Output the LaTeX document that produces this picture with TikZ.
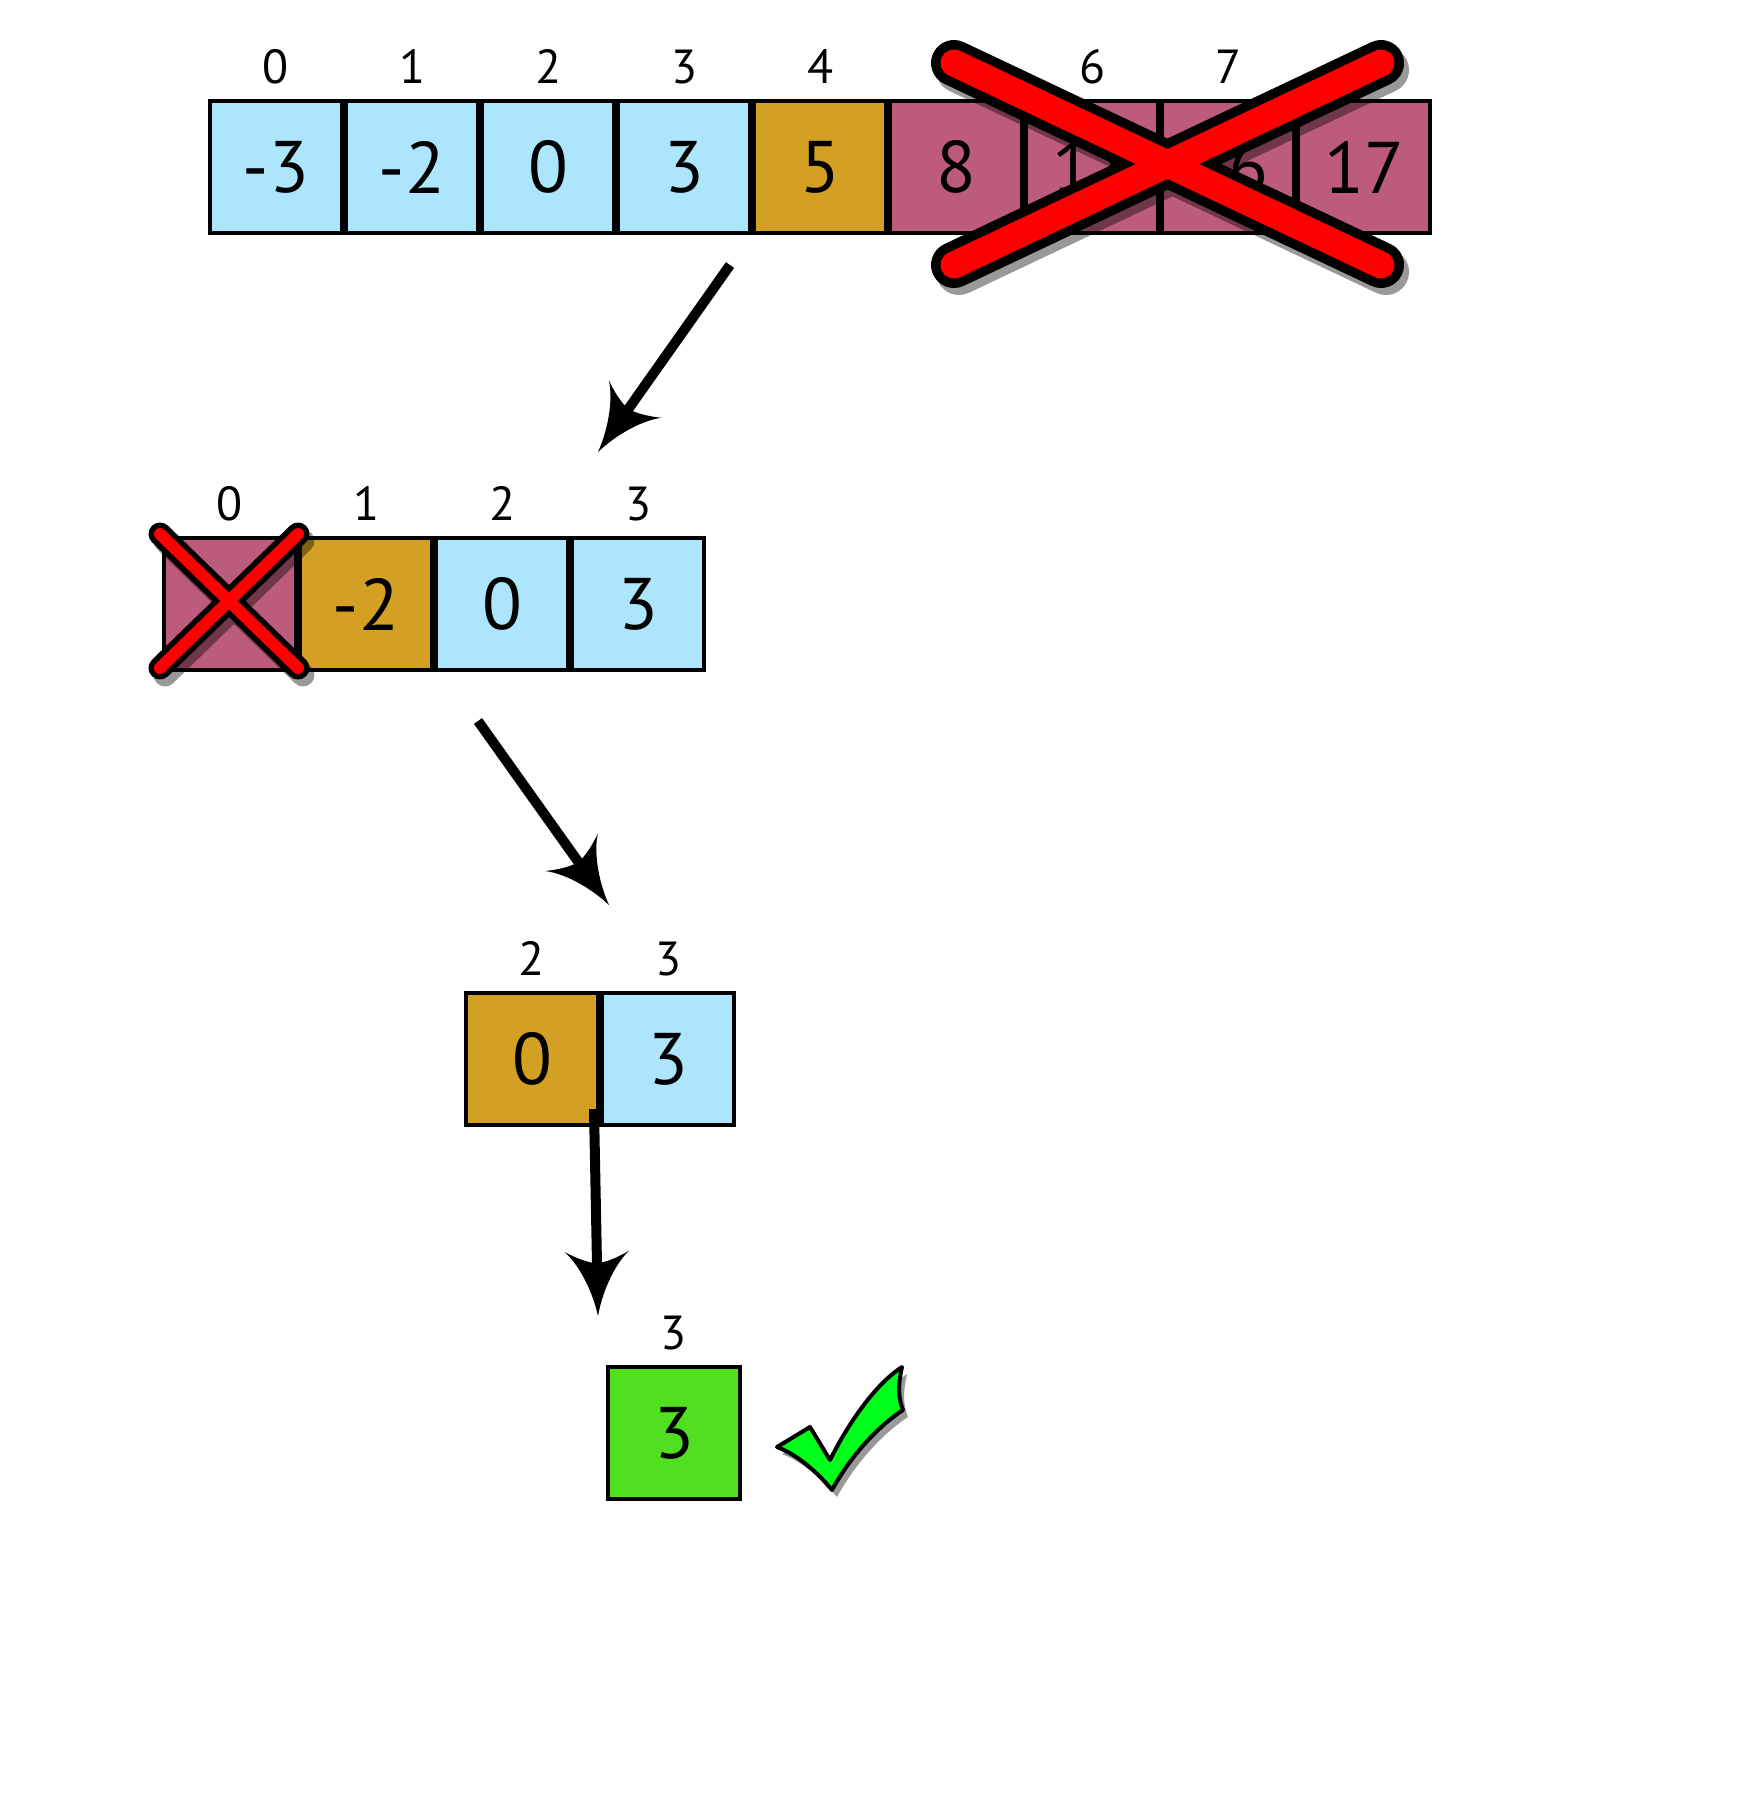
\documentclass[tikz,border=0pt]{standalone}
\usepackage{fontspec}
\setmainfont{PT Sans}
\definecolor{skyblue}{HTML}{ADE6FC}
\definecolor{gold}{HTML}{D4A024}
\definecolor{mauve}{HTML}{BC5B7B}
\definecolor{leaf}{HTML}{50E020}
\definecolor{tick}{HTML}{00FF1A}
\definecolor{xred}{HTML}{FF0000}
\pgfdeclarearrow{
    name = Swept,
    setup code = {
        \pgfarrowssettipend{0pt}
        \pgfarrowssetlineend{-36pt}
        \pgfarrowssetbackend{-46pt}
        \pgfarrowssetvisualbackend{-37pt}
        \pgfarrowshullpoint{0pt}{0pt}
        \pgfarrowsupperhullpoint{-46pt}{23pt}
    },
    drawing code = {
        \pgfpathmoveto{\pgfpointorigin}
        \pgfpathcurveto{\pgfpoint{-20pt}{4pt}}{\pgfpoint{-38pt}{14pt}}{\pgfpoint{-46pt}{23pt}}
        \pgfpathcurveto{\pgfpoint{-41pt}{14pt}}{\pgfpoint{-38pt}{6pt}}{\pgfpoint{-37.5pt}{0pt}}
        \pgfpathcurveto{\pgfpoint{-38pt}{-6pt}}{\pgfpoint{-41pt}{-14pt}}{\pgfpoint{-46pt}{-23pt}}
        \pgfpathcurveto{\pgfpoint{-38pt}{-14pt}}{\pgfpoint{-20pt}{-4pt}}{\pgfpointorigin}
        \pgfpathclose
        \pgfusepathqfill
    },
}
\tikzset{
    >=Swept,
    cell/.style={draw, line width=0.1cm, minimum size=3.3cm, inner sep=0pt,
        outer sep=0.05cm, anchor=center, font=\fontsize{52}{60}\selectfont},
    low/.style={cell, fill=skyblue},
    pivot/.style={cell, fill=gold},
    high/.style={cell, fill=mauve},
    found/.style={cell, fill=leaf},
    idx/.style={inner sep=0pt, outer sep=0pt, anchor=base,
        font=\fontsize{34}{40}\selectfont},
    row/.style={anchor=south west, column sep=0pt, row sep=0.38cm,
        inner sep=0pt, outer sep=0pt},
    flow/.style={->, line width=0.25cm},
    shade/.style={line cap=round, black, opacity=.4,
        transform canvas={shift={(5,7)}}},
    rim/.style={line cap=round, black},
    core/.style={line cap=round, xred},
}

\begin{document}
\begin{tikzpicture}[x=0.025cm, y=-0.025cm]
            \useasboundingbox (0,0) rectangle (1744,1820);
            % whole array
            \matrix[row] at (208,235) {
                \node[idx] (i0) {0} ; & \node[idx] (i1) {1} ; & \node[idx] (i2) {2} ; &
                \node[idx] (i3) {3} ; & \node[idx] (i4) {4} ; & \node[idx] (i5) {5} ; &
                \node[idx] (i6) {6} ; & \node[idx] (i7) {7} ; & \node[idx] (i8) {8} ; \\
                \node[low] (t0) {-3} ; & \node[low] (t1) {-2} ; & \node[low] (t2) {0} ; &
                \node[low] (t3) {3} ; & \node[pivot] (t4) {5} ; & \node[high] (t5) {8} ; &
                \node[high] (t6) {11} ; & \node[high] (t7) {16} ; & \node[high] (t8) {17} ; \\
            } ;
            % left half
            \matrix[row] at (162,672) {
                \node[idx] (j0) {0} ; & \node[idx] (j1) {1} ; &
                \node[idx] (j2) {2} ; & \node[idx] (j3) {3} ; \\
                \node[high] (m0) {} ; & \node[pivot] (m1) {-2} ; &
                \node[low] (m2) {0} ; & \node[low] (m3) {3} ; \\
            } ;
            % two left
            \matrix[row] at (464,1127) {
                \node[idx] (k2) {2} ; & \node[idx] (k3) {3} ; \\
                \node[pivot] (n2) {0} ; & \node[low] (n3) {3} ; \\
            } ;
            % result
            \matrix[row] at (606,1501) {
                \node[idx] (l3) {3} ; \\
                \node[found] (r3) {3} ; \\
            } ;
            % big cross
            \coordinate (bx1) at (954,63) ;
            \coordinate (bx2) at (1381,265) ;
            \coordinate (bx3) at (1381,63) ;
            \coordinate (bx4) at (954,265) ;
            \draw[shade, line width=1.15cm] (bx1) -- (bx2) (bx3) -- (bx4) ;
            \draw[rim, line width=1.15cm] (bx1) -- (bx2) (bx3) -- (bx4) ;
            \draw[core, line width=0.675cm] (bx1) -- (bx2) (bx3) -- (bx4) ;
            % small cross
            \coordinate (sx1) at (160,534) ;
            \coordinate (sx2) at (298,668) ;
            \coordinate (sx3) at (298,534) ;
            \coordinate (sx4) at (160,668) ;
            \draw[shade, line width=0.575cm] (sx1) -- (sx2) (sx3) -- (sx4) ;
            \draw[rim, line width=0.575cm] (sx1) -- (sx2) (sx3) -- (sx4) ;
            \draw[core, line width=0.3cm] (sx1) -- (sx2) (sx3) -- (sx4) ;
            % arrows
            \coordinate (a1) at (730,265) ;
            \coordinate (b1) at (598,452) ;
            \coordinate (a2) at (478,721) ;
            \coordinate (b2) at (609,905) ;
            \coordinate (a3) at (594,1109) ;
            \coordinate (b3) at (598,1316) ;
            \draw[flow] (a1) -- (b1) ;
            \draw[flow] (a2) -- (b2) ;
            \draw[flow] (a3) -- (b3) ;
            % check mark
            \fill[black, opacity=.4, transform canvas={shift={(5,7)}}]
                (777,1447) -- (810,1427) -- (830,1460)
                .. controls (850,1420) and (877,1383) .. (902,1367)
                .. controls (898,1385) and (898,1398) .. (903,1410)
                .. controls (877,1427) and (850,1457) .. (832,1490)
                .. controls (813,1467) and (793,1453) .. cycle ;
            \filldraw[fill=tick, line width=0.1cm, line join=round]
                (777,1447) -- (810,1427) -- (830,1460)
                .. controls (850,1420) and (877,1383) .. (902,1367)
                .. controls (898,1385) and (898,1398) .. (903,1410)
                .. controls (877,1427) and (850,1457) .. (832,1490)
                .. controls (813,1467) and (793,1453) .. cycle ;
        \end{tikzpicture}
\end{document}
